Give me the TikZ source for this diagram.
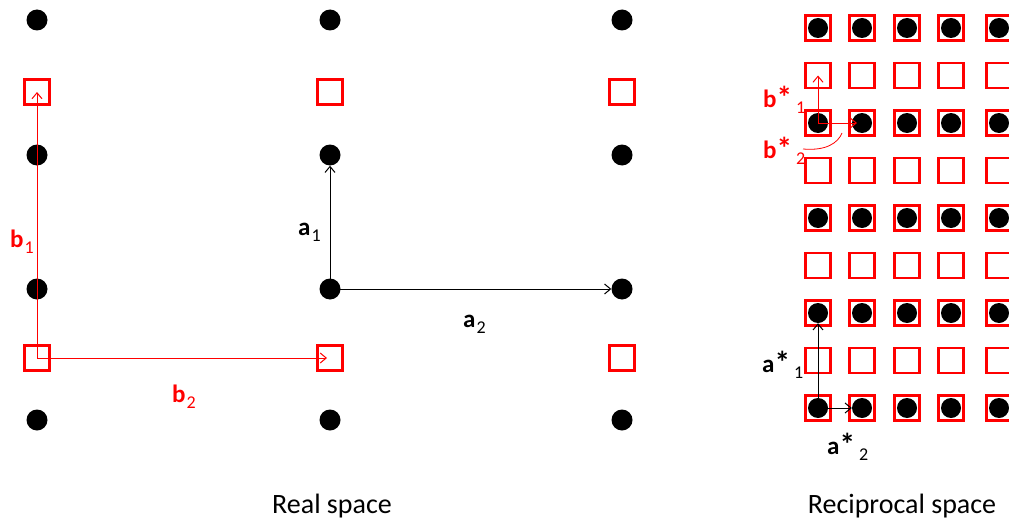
\documentclass[tikz,border=0pt]{standalone}
\usepackage{fontspec}
\setmainfont{Carlito}
\usetikzlibrary{arrows.meta}
\definecolor{redc}{RGB}{255,0,0}
\newcommand{\veclab}[3]{#1\hspace{#2}\raisebox{-6pt}{\fontsize{18}{18}\selectfont\mdseries #3}}
\newcommand{\bigast}{\raisebox{-1pt}{\scalebox{1.25}{*}}}
\tikzset{
  dotn/.style={circle,fill=black,inner sep=0pt,minimum size=21pt},
  rdot/.style={circle,fill=black,inner sep=0pt,minimum size=20pt},
  sqbox/.style={draw=redc,line width=2.6pt,inner sep=0pt,minimum size=25pt},
  vecarrow/.style={line width=1pt,-{Straight Barb[length=6pt,width=10pt]}},
  lbl/.style={anchor=base west,inner sep=0pt,font=\fontsize{25}{25}\selectfont\bfseries},
  titlelbl/.style={anchor=base,inner sep=0pt,font=\fontsize{28}{28}\selectfont}
}
\begin{document}
\begin{tikzpicture}[x=1pt,y=-1pt]
\useasboundingbox (0,0) rectangle (1009,519);
\clip (0,0) rectangle (1009,519);
% ---------- Real space ----------
\foreach \xx [count=\i] in {37,330,622}{
  \foreach \yy [count=\j] in {20,155,289,420}{
    \node[dotn] (rd-\i-\j) at (\xx,\yy) {};
  }
  \foreach \yy [count=\j] in {92,358}{
    \node[sqbox] (rs-\i-\j) at (\xx,\yy) {};
  }
}
\draw[vecarrow,redc] (rs-1-2.center) -- (rs-1-1.center);
\draw[vecarrow,redc] (rs-1-2.center) -- ([xshift=-3pt]rs-2-2.center);
\draw[vecarrow] (rd-2-3.center) -- (rd-2-2);
\draw[vecarrow] (rd-2-3.center) -- (rd-3-3);
\node[lbl,text=redc] (lb1) at (10,247) {\veclab{b}{1pt}{1}};
\node[lbl,text=redc] (lb2) at (172,402) {\veclab{b}{1pt}{2}};
\node[lbl] (la1) at (298,235) {\veclab{a}{1pt}{1}};
\node[lbl] (la2) at (463,327) {\veclab{a}{1pt}{2}};
\node[titlelbl] (treal) at (332,513) {Real space};
% ---------- Reciprocal space ----------
\foreach \xx [count=\c] in {818,862,907,951,999}{
  \foreach \yy [count=\r] in {28,75.5,123,170.5,218,265.5,313,360.5,408}{
    \node[sqbox] (s-\c-\r) at (\xx,\yy) {};
  }
  \foreach \yy [count=\k] in {28,123,218,313,408}{
    \pgfmathtruncatemacro{\rr}{2*\k-1}
    \node[rdot] (d-\c-\rr) at (\xx,\yy) {};
  }
}
\draw[vecarrow,redc] (d-1-3.center) -- (s-1-2.center);
\draw[vecarrow,redc] (d-1-3.center) -- ([xshift=-5pt]d-2-3.center);
\draw[vecarrow] (d-1-9.center) -- (d-1-7);
\draw[vecarrow] (d-1-9.center) -- (d-2-9);
\coordinate (arcA) at (803,149);
\coordinate (arcB) at (842,133);
\draw[redc,line width=0.8pt] (arcA) .. controls (826,151) and (838,143) .. (arcB);
\node[lbl,text=redc] (lbs1) at (763,107) {\veclab{b\bigast}{4pt}{1}};
\node[lbl,text=redc] (lbs2) at (763,158) {\veclab{b\bigast}{4pt}{2}};
\node[lbl] (las1) at (762,372) {\veclab{a\bigast}{4pt}{1}};
\node[lbl] (las2) at (827,454) {\veclab{a\bigast}{4pt}{2}};
\node[titlelbl] (trec) at (902,513) {Reciprocal space};
\end{tikzpicture}
\end{document}
